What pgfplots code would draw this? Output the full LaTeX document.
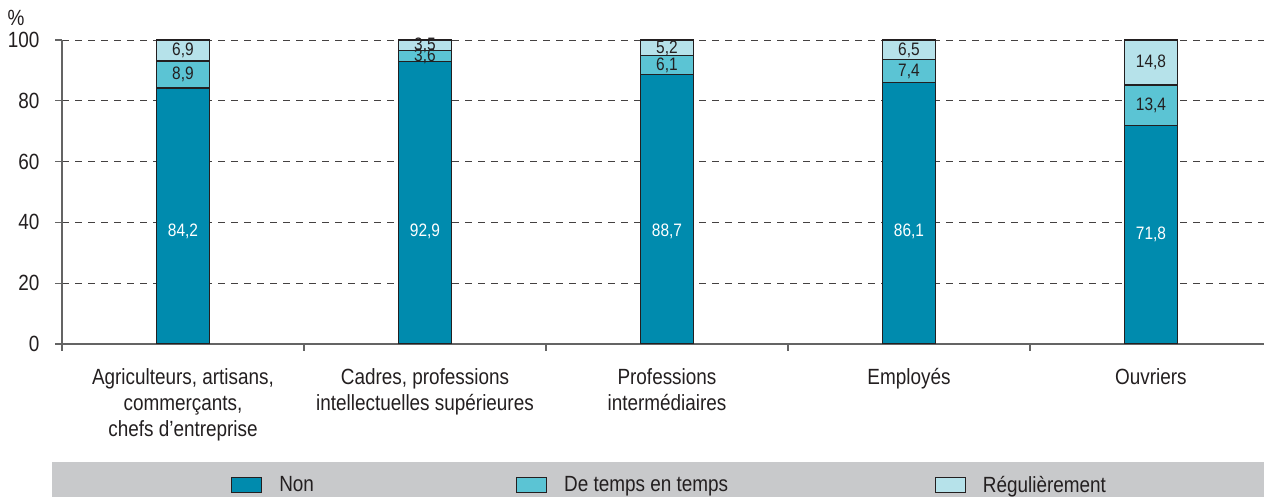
\documentclass[border=0pt]{standalone}
\usepackage{fontspec}
\setmainfont{Liberation Sans}[FakeStretch=0.86]
\usepackage{pgfplots}
\pgfplotsset{compat=1.18}
\definecolor{cNon}{RGB}{0,139,174}
\definecolor{cTemps}{RGB}{91,196,212}
\definecolor{cReg}{RGB}{182,226,234}
\definecolor{band}{RGB}{200,201,203}
\definecolor{txt}{RGB}{35,31,32}
\definecolor{axgray}{RGB}{100,100,100}
\begin{document}
\begin{tikzpicture}[x=1pt,y=1pt]
\useasboundingbox (0,0) rectangle (1264,497);
\fill[band] (52,0) rectangle (1264,35);
\node[font=\fontsize{22}{24}\selectfont, text=txt, inner sep=0pt] at (16,479) {\%};
\begin{axis}[
  at={(62pt,153pt)}, anchor=south west,
  width=1202pt, height=304pt, scale only axis,
  xmin=-0.5, xmax=4.467, ymin=0, ymax=100,
  ybar stacked, bar width=53pt,
  axis x line*=bottom, axis y line*=left,
  x axis line style={draw=axgray, line width=1.2pt},
  y axis line style={draw=axgray, line width=1.2pt},
  tick align=outside, major tick length=7pt,
  tick style={draw=axgray, line width=1.2pt},
  /pgf/number format/assume math mode=true,
  ytick={0,20,...,100},
  ymajorgrids,
  grid style={draw=txt!85, dash pattern=on 7pt off 6pt, line width=0.8pt},
  xtick={-0.5,0.5,1.5,2.5,3.5}, xticklabels={},
  extra x ticks={0,1,2,3,4},
  extra x tick style={major tick length=0pt},
  extra x tick labels={{Agriculteurs, artisans,\\commerçants,\\chefs d’entreprise},
    {Cadres, professions\\intellectuelles supérieures},
    {Professions\\intermédiaires},
    {Employés},
    {Ouvriers}},
  xticklabel style={align=center, font=\fontsize{22}{26}\selectfont, text=txt, yshift=-21pt},
  yticklabel style={font=\fontsize{22}{24}\selectfont, text=txt, xshift=-12pt},
  legend columns=3,
  legend image code/.code={\draw[#1] (0pt,-7.5pt) rectangle (30pt,7.5pt);},
  legend style={at={(axis description cs:0.1380,-0.4638)}, anchor=west,
    draw=none, fill=none,
    font=\fontsize{22}{24}\selectfont, text=txt,
    /tikz/every odd column/.append style={column sep=15pt},
    /tikz/column 2/.append style={column sep=200pt},
    /tikz/column 4/.append style={column sep=204.5pt}},
]
\addplot[fill=cNon, draw=txt, line width=1.2pt] coordinates {(0,84.2) (1,92.9) (2,88.7) (3,86.1) (4,71.8)};
\addlegendentry{Non}
\addplot[fill=cTemps, draw=txt, line width=1.2pt] coordinates {(0,8.9) (1,3.6) (2,6.1) (3,7.4) (4,13.4)};
\addlegendentry{De temps en temps}
\addplot[fill=cReg, draw=txt, line width=1.2pt] coordinates {(0,6.9) (1,3.5) (2,5.2) (3,6.5) (4,14.8)};
\addlegendentry{Régulièrement}
\end{axis}
\begin{axis}[
  at={(62pt,153pt)}, anchor=south west,
  width=1202pt, height=304pt, scale only axis,
  xmin=-0.5, xmax=4.467, ymin=0, ymax=100,
  hide axis, clip=false,
  nodes near coords, point meta=explicit symbolic,
  every node near coord/.style={anchor=center, inner sep=0pt, font=\fontsize{18}{20}\selectfont},
]
\addplot[draw=none, mark=none, nodes near coords style={text=white}] table[meta=lab] {
x y lab
0 37 84,2
1 37 92,9
2 37 88,7
3 37 86,1
4 35.9 71,8
};
\addplot[draw=none, mark=none, nodes near coords style={text=txt}] table[meta=lab] {
x y lab
0 88.65 8,9
1 94.7 3,6
2 91.75 6,1
3 89.8 7,4
4 78.5 13,4
0 96.55 6,9
1 98.25 3,5
2 97.4 5,2
3 96.75 6,5
4 92.6 14,8
};
\end{axis}
\end{tikzpicture}
\end{document}
